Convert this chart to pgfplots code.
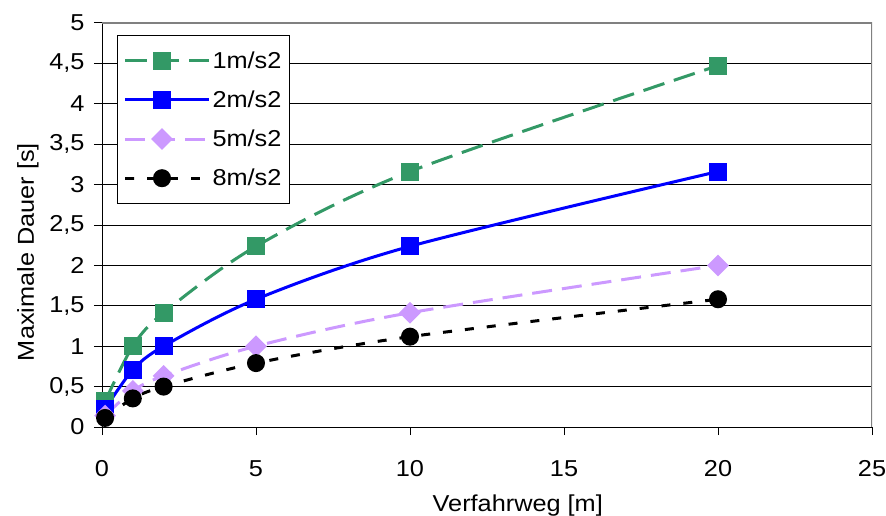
\documentclass[border=0pt]{standalone}
\usepackage{fontspec}
\setmainfont[FakeStretch=1.1]{Liberation Sans}
\usepackage{pgfplots}
\pgfplotsset{compat=1.18}
\definecolor{seagreen}{RGB}{51,153,102}
\definecolor{lavender}{RGB}{204,153,255}
\newcommand{\chartfont}{\fontsize{23}{28}\selectfont}

\begin{document}
\begin{tikzpicture}[x=1pt,y=1pt]
\path[use as bounding box] (0,0) rectangle (886,515);
\begin{axis}[
  at={(102pt,88pt)}, anchor=south west,
  scale only axis, width=770pt, height=404pt,
  xmin=0, xmax=25, ymin=0, ymax=5,
  xtick={0,5,...,25}, ytick={0,0.5,...,5},
  /pgf/number format/.cd, use comma, fixed, assume math mode=true, /pgfplots/.cd,
  tick align=outside, major tick length=8pt,
  tick style={black, line width=1pt},
  axis x line*=bottom, axis y line*=left,
  axis line style={-, black, line width=1pt},
  ymajorgrids, grid style={black, line width=1pt},
  tick label style={font=\chartfont},
  xticklabel shift=22pt,
  yticklabel shift=6pt,
  label style={font=\chartfont},
  xlabel={Verfahrweg [m]},
  ylabel={Maximale Dauer [s]},
  xlabel style={at={(axis description cs:0.540,-0.195)}, anchor=center},
  ylabel style={at={(axis description cs:-0.0961,0.433)}, anchor=center},
  legend style={at={(axis description cs:0.0195,0.970)}, anchor=north west,
    draw=black, line width=1pt, font=\chartfont, row sep=17pt,
    inner xsep=6pt, inner ysep=14pt},
  legend cell align=left,
  legend image code/.code={%
    \path (0pt,0pt) -- (84pt,0pt);
    \draw[#1, mark repeat=2, mark phase=2]
      plot coordinates {(0pt,0pt) (37pt,0pt) (74pt,0pt)};},
]
% t = sqrt(2 s / a) travel time for each acceleration
\addplot[seagreen, line width=3pt, dash pattern=on 22pt off 10pt, smooth,
  mark=square*, mark size=7.5pt, mark options={solid, draw=none}]
  coordinates {(0.1,0.316) (1,1) (2,1.414) (5,2.236) (10,3.162) (20,4.472)};
\addlegendentry{1m/s2}
\addplot[blue, line width=3pt, smooth,
  mark=square*, mark size=7.5pt, mark options={solid, draw=none}]
  coordinates {(0.1,0.224) (1,0.707) (2,1) (5,1.581) (10,2.236) (20,3.162)};
\addlegendentry{2m/s2}
\addplot[lavender, line width=3pt, dash pattern=on 20pt off 10pt, smooth,
  mark=square*, mark size=6.2pt, mark options={solid, draw=none, rotate=45}]
  coordinates {(0.1,0.141) (1,0.447) (2,0.632) (5,1) (10,1.414) (20,2)};
\addlegendentry{5m/s2}
\addplot[black, line width=3pt, dash pattern=on 9pt off 13pt, smooth,
  mark=*, mark size=7.5pt, mark options={solid, draw=none}]
  coordinates {(0.1,0.112) (1,0.354) (2,0.5) (5,0.791) (10,1.118) (20,1.581)};
\addlegendentry{8m/s2}
% grey frame on the top and right of the plot area
\draw[gray, line width=1.5pt] (rel axis cs:0,1) -- (rel axis cs:1,1) -- (rel axis cs:1,0);
\end{axis}
\end{tikzpicture}
\end{document}
